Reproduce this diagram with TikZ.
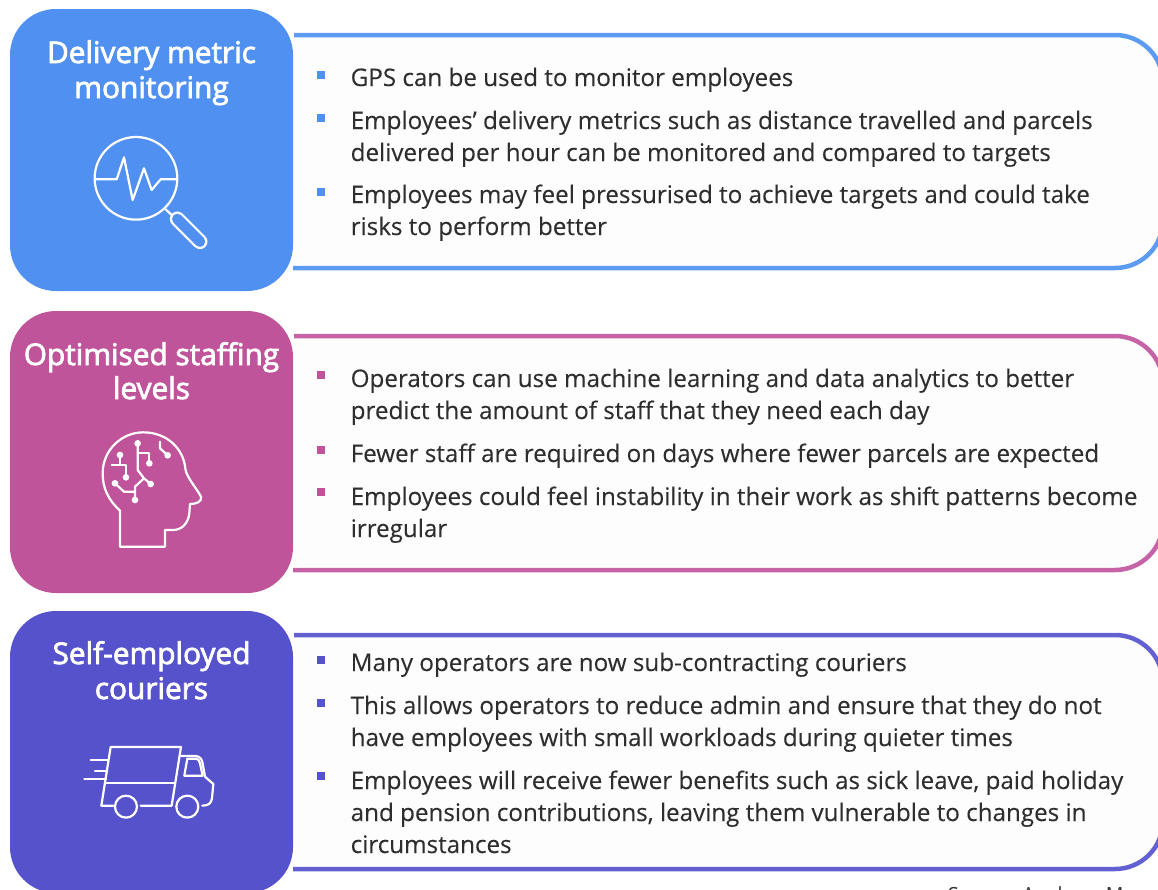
\documentclass[tikz,border=0pt]{standalone}
\usepackage{fontspec}
\setmainfont{Open Sans}
\newfontfamily\ttlfont[FakeBold=2.5]{Open Sans}
\newfontfamily\bodyfont[FakeBold=0.15]{Open Sans}
\definecolor{cblue}{HTML}{4F90F0}
\definecolor{cpink}{HTML}{BF549B}
\definecolor{cind}{HTML}{5652CC}
\definecolor{lblue}{HTML}{5B9BF2}
\definecolor{lpink}{HTML}{C563A6}
\definecolor{lind}{HTML}{6360D2}
\definecolor{pfill}{HTML}{FDFDFD}
\definecolor{txt}{HTML}{2E2E2E}
\tikzset{
 tile/.style={rounded corners=46pt},
 panelline/.style={line width=4.5pt,rounded corners=48pt},
 panelfill/.style={fill=pfill,rounded corners=48pt},
 bul/.style={minimum size=8pt,inner sep=0pt,outer sep=0pt,fill=#1,anchor=center},
 title/.style={text=white,font=\ttlfont\fontsize{29.8}{34}\selectfont,anchor=base,inner sep=0pt},
 body/.style={text=txt,font=\bodyfont\fontsize{24.2}{28}\selectfont,anchor=base west,inner sep=0pt},
 icon/.style={draw=white,line width=2.2pt,line join=round,line cap=round},
 dotc/.style={fill=white,draw=none}
}
\begin{document}
\begin{tikzpicture}[x=1pt,y=-1pt]
\useasboundingbox (0,0) rectangle (1158,889);
\clip (0,0) rectangle (1158,889);
% panels
\fill[panelfill] (270,35) -- (1163,35) -- (1163,268) -- (270,268) -- cycle;
\fill[panelfill] (270,336) -- (1163,336) -- (1163,570) -- (270,570) -- cycle;
\fill[panelfill] (270,635) -- (1163,635) -- (1163,869) -- (270,869) -- cycle;
\draw[panelline,draw=lblue] (294,35) -- (1163,35) -- (1163,268) -- (293,268);
\draw[panelline,draw=lpink] (294,336) -- (1163,336) -- (1163,570) -- (293,570);
\draw[panelline,draw=lind] (294,635) -- (1163,635) -- (1163,869) -- (293,869);
\fill[tile,white] (8,7) rectangle (295,293);
\fill[tile,white] (8,309) rectangle (295,595);
\fill[tile,white] (8,609) rectangle (295,895);
\fill[tile,cblue] (10,9) rectangle (293,291);
\fill[tile,cpink] (10,311) rectangle (293,593);
\fill[tile,cind] (10,611) rectangle (293,893);
% titles
\node[title] (t1a) at (151.5,63) {Delivery metric};
\node[title] (t1b) at (151.5,98) {monitoring};
\node[title] (t2a) at (151.5,365) {Optimised staffing};
\node[title] (t2b) at (151.5,399) {levels};
\node[title] (t3a) at (151.5,664) {Self-employed};
\node[title] (t3b) at (151.5,699) {couriers};
% bullets
\foreach \n/\y in {a/75,b/118,c/192} \node[bul=cblue] (b1\n) at (321,\y) {};
\foreach \n/\y in {a/375,b/450,c/492} \node[bul=cpink] (b2\n) at (321,\y) {};
\foreach \n/\y in {a/660,b/703,c/776} \node[bul=cind] (b3\n) at (321,\y) {};
% body 1
\node[body] (l1) at (350.5,86) {GPS can be used to monitor employees};
\node[body] (l2) at (350.5,129) {Employees’ delivery metrics such as distance travelled and parcels};
\node[body] (l3) at (350.5,161) {delivered per hour can be monitored and compared to targets};
\node[body] (l4) at (350.5,203) {Employees may feel pressurised to achieve targets and could take};
\node[body] (l5) at (350.5,235) {risks to perform better};
% body 2
\node[body] (m1) at (350.5,387) {Operators can use machine learning and data analytics to better};
\node[body] (m2) at (350.5,419) {predict the amount of staff that they need each day};
\node[body] (m3) at (350.5,462) {Fewer staff are required on days where fewer parcels are expected};
\node[body] (m4) at (350.5,505) {Employees could feel instability in their work as shift patterns become};
\node[body] (m5) at (350.5,537) {irregular};
% body 3
\node[body] (n1) at (350.5,671) {Many operators are now sub-contracting couriers};
\node[body] (n2) at (350.5,714) {This allows operators to reduce admin and ensure that they do not};
\node[body] (n3) at (350.5,746) {have employees with small workloads during quieter times};
\node[body] (n4) at (350.5,789) {Employees will receive fewer benefits such as sick leave, paid holiday};
\node[body] (n5) at (350.5,821) {and pension contributions, leaving them vulnerable to changes in};
\node[body] (n6) at (350.5,853) {circumstances};
\node[text=txt,font=\fontsize{19.5}{24}\selectfont,anchor=base west,inner sep=0pt] (src) at (948,901.5) {Source: Analysys Mason};
% magnifier
\begin{scope}[x=0.3333pt,y=-0.3333pt,icon]
\draw (408,535) circle[radius=124];
\draw (285,538) -- (350,538) -- (372,472) -- (398,600) -- (432,505) -- (455,570) -- (482,538) -- (530,538);
\draw (497,628) -- (515,645);
\draw[line width=15pt,white] (532,657) -- (600,725);
\draw[line width=10.6pt,cblue,line cap=round] (532,657) -- (600,725);
\end{scope}
% head
\begin{scope}[shift={(0,300)},x=0.3333pt,y=-0.3333pt,icon]
\draw (360,740) -- (360,632) .. controls (325,600) and (308,565) .. (308,520)
 .. controls (308,450) and (365,397) .. (430,397)
 .. controls (500,397) and (550,445) .. (556,505)
 .. controls (558,530) and (590,565) .. (603,590)
 .. controls (607,605) and (590,612) .. (570,612)
 -- (568,640) .. controls (565,670) and (545,690) .. (520,690) -- (495,690) -- (495,740) -- cycle;
\draw (413,430) -- (413,510) -- (432,535) -- (405,560) -- (405,600);
\draw (413,460) -- (448,460) -- (448,490);
\draw (432,535) -- (452,552);
\draw (345,550) -- (372,575) -- (405,575);
\draw (360,465) -- (360,495);
\draw (335,495) -- (378,495) -- (378,532);
\draw (480,425) -- (480,445) -- (503,466);
\foreach \p in {(413,430),(448,490),(452,552),(405,600),(345,550),(360,465),(378,532),(503,466)}
  \fill[dotc] \p circle[radius=10];
\end{scope}
% truck
\begin{scope}[shift={(0,600)},x=0.3333pt,y=-0.3333pt,icon]
\draw (340,617) -- (304,617) -- (332,441) -- (543,441) -- (515,617) -- (422,617);
\draw (320,548) -- (522,548);
\draw (543,468) -- (585,468) .. controls (600,468) and (606,478) .. (608,490) -- (615,530) -- (640,552) -- (636,595) .. controls (634,610) and (625,617) .. (607,617);
\draw (562,476) -- (588,476) .. controls (595,476) and (598,482) .. (600,490) -- (608,527) -- (553,527) -- cycle;
\draw (378,620) circle[radius=33];
\draw (562,620) circle[radius=33];
\draw (272,480) -- (325,480);
\draw (285,513) -- (322,513);
\draw (253,538) -- (318,538);
\end{scope}
\end{tikzpicture}
\end{document}
